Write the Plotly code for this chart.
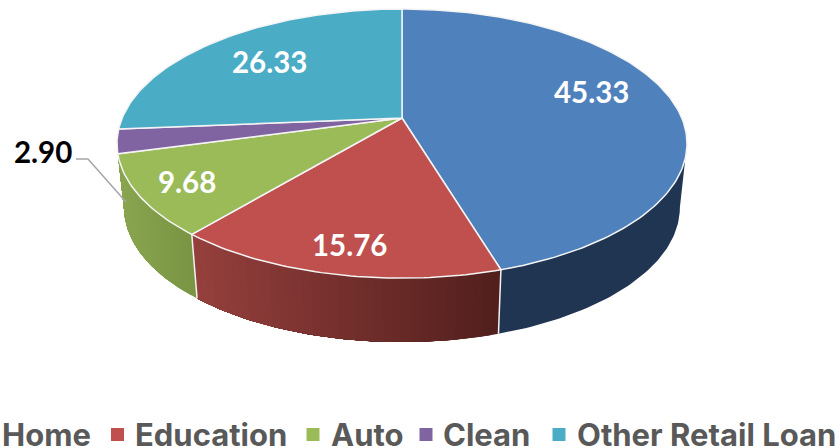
import math
import plotly.graph_objects as go

categories = ["Home", "Education", "Auto", "Clean", "Other Retail Loan"]
values = [45.33, 15.76, 9.68, 2.90, 26.33]
value_labels = ["45.33", "15.76", "9.68", "2.90", "26.33"]

top_colors = ["#4F81BD", "#C0504D", "#9BBB59", "#8064A2", "#4BACC6"]
wall_left = {0: (31, 53, 82), 1: (150, 64, 61), 2: (137, 165, 79)}
wall_right = {0: (31, 53, 82), 1: (82, 31, 29), 2: (122, 150, 68)}
label_pos = [(591, 91), (349, 244), (187, 181), (43, 151), (269, 61)]
label_col = ["white", "white", "white", "black", "white"]
legend_text_x = [0, 133, 329, 441, 575]
legend_mark_x = [-21, 117.5, 313, 426, 559]

VALUE_FONT = "Lato"
LEGEND_FONT = "Inter"
CX, CY, A, B, K = 402, 118, 279.8, 129.7, 0.19
DEPTH, SHRINK = 64, 0.975


def project(deg):
    t = math.radians(deg)
    u, v = math.sin(t), math.cos(t)
    w = 1 + K * v
    return CX + A * u / w, CY - B * v / w


def lower(p):
    return CX + (p[0] - CX) * SHRINK, p[1] + DEPTH


def mix(a, b, f):
    return "rgb(%d,%d,%d)" % tuple(round(a[i] + (b[i] - a[i]) * f) for i in range(3))


def frange(a, b, step):
    n = max(2, int(abs(b - a) / step) + 1)
    return [a + (b - a) * i / (n - 1) for i in range(n)]


edges = [0]
for val in values:
    edges.append(edges[-1] + val / sum(values) * 360)

fig = go.Figure()


def poly(xs, ys, fill, line, width, name):
    fig.add_trace(go.Scatter(x=xs, y=ys, mode="lines", fill="toself", fillcolor=fill,
                             line=dict(color=line, width=width), name=name,
                             hoverinfo="name", showlegend=False))


# the wall starts where the rim is widest on screen, so the band does not fold over itself
rim_start = math.degrees(math.acos(-K))

# side walls: drawn as overlapping bands so that the shading runs along the rim with no seams
for i in (0, 1, 2):
    a0 = max(edges[i], rim_start)
    a1 = edges[i + 1]
    xa, xb = project(a0)[0], project(a1)[0]
    if wall_left[i] == wall_right[i]:
        bands = [a0]
    else:
        bands = frange(a0, a1, 1.5)[:-1]
    for s in bands:
        ang = frange(s, a1, 1)
        top = [project(a) for a in ang]
        bot = [lower(p) for p in reversed(top)]
        f = 0 if len(bands) == 1 else (top[0][0] - min(xa, xb)) / abs(xa - xb)
        c = mix(wall_left[i], wall_right[i], f)
        ring = top + bot + top[:1]
        poly([p[0] for p in ring], [p[1] for p in ring], c, "rgba(0,0,0,0)", 0, categories[i])

# white seams on the wall
for d in (edges[1], edges[2]):
    p = project(d)
    q = lower(p)
    fig.add_trace(go.Scatter(x=[p[0], q[0]], y=[p[1], q[1]], mode="lines",
                             line=dict(color="#F2F2F2", width=1.5), hoverinfo="skip", showlegend=False))

# top face
for i, cat in enumerate(categories):
    pts = [project(a) for a in frange(edges[i], edges[i + 1], 1)]
    xs = [CX] + [p[0] for p in pts] + [CX]
    ys = [CY] + [p[1] for p in pts] + [CY]
    poly(xs, ys, top_colors[i], "#F4F4F4", 1.5, cat)

# leader line
fig.add_trace(go.Scatter(x=[76, 88, 126], y=[159, 159, 202], mode="lines",
                         line=dict(color="#A6A6A6", width=1.5), hoverinfo="skip", showlegend=False))

# legend swatches
fig.add_trace(go.Scatter(x=legend_mark_x, y=[434.5] * 5, mode="markers",
                         marker=dict(symbol="square", size=13, color=top_colors, line=dict(width=0)),
                         hoverinfo="skip", showlegend=False))

ann = []
for i, txt in enumerate(value_labels):
    ann.append(dict(x=label_pos[i][0], y=label_pos[i][1], text="<b>%s</b>" % txt, showarrow=False,
                    xanchor="center", yanchor="middle",
                    font=dict(family=VALUE_FONT, size=29.5, color=label_col[i])))
for i, cat in enumerate(categories):
    ann.append(dict(x=legend_text_x[i], y=434, text="<b>%s</b>" % cat, showarrow=False,
                    xanchor="left", yanchor="middle",
                    font=dict(family=LEGEND_FONT, size=31, color="#595959")))

fig.update_layout(width=840, height=448, margin=dict(l=0, r=0, t=0, b=0), autosize=False,
                  paper_bgcolor="white", plot_bgcolor="white", showlegend=False, annotations=ann,
                  xaxis=dict(range=[0, 840], visible=False, fixedrange=True),
                  yaxis=dict(range=[448, 0], visible=False, fixedrange=True))
fig.write_html("out.html", config=dict(displayModeBar=False),
               post_script="document.body.style.margin='0';document.body.style.overflow='hidden';")
